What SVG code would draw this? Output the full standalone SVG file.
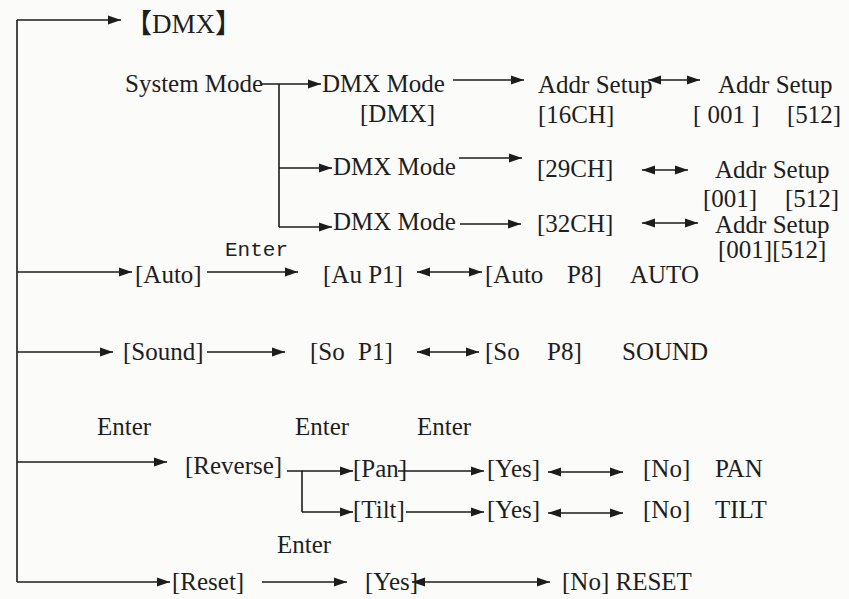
<svg xmlns="http://www.w3.org/2000/svg" width="849" height="599" viewBox="0 0 849 599">
<defs>
<marker id="ah" markerUnits="userSpaceOnUse" markerWidth="14" markerHeight="10" refX="13" refY="5" orient="auto-start-reverse">
<path d="M0,0.5 L13,5 L0,9.5 z" fill="#1c1c1c"/>
</marker>
<style>
text{font-family:"Liberation Serif","Noto Sans CJK SC",serif;font-size:25px;fill:#1e1e1e}
.m{font-family:"Liberation Mono","DejaVu Sans Mono",monospace;font-size:21px}
.c path{fill:none;stroke:#1c1c1c;stroke-width:1.6}
.a{marker-end:url(#ah)}
.d{marker-start:url(#ah);marker-end:url(#ah)}
</style>
</defs>
<rect width="849" height="599" fill="#fbfbf9"/>
<g class="c" id="connectors">
<path d="M17,20 V582"/>
<path class="a" d="M17,20 H121"/>
<path class="a" d="M262,84 H321"/>
<path d="M279,84 V227"/>
<path class="a" d="M279,168 H332"/>
<path class="a" d="M279,227 H332"/>
<path class="a" d="M453,80 H524"/>
<path class="a" d="M459,158 H522"/>
<path class="a" d="M460,224 H521"/>
<path class="d" d="M648,80 H700"/>
<path class="d" d="M642,170 H688"/>
<path class="d" d="M642,223 H698"/>
<path class="a" d="M17,272 H132"/>
<path class="a" d="M207,272 H298"/>
<path class="d" d="M417,272 H482"/>
<path class="a" d="M17,352 H113"/>
<path class="a" d="M207,352 H285"/>
<path class="d" d="M417,352 H479"/>
<path class="a" d="M17,462 H167"/>
<path d="M287,471 H302 V512"/>
<path class="a" d="M302,471 H353"/>
<path class="a" d="M302,512 H353"/>
<path class="a" d="M398,471 H484"/>
<path class="a" d="M406,512 H484"/>
<path class="d" d="M548,472 H623"/>
<path class="d" d="M548,513 H623"/>
<path class="a" d="M17,582 H170"/>
<path class="a" d="M262,582 H347"/>
<path class="d" d="M412,582 H550"/>
</g>
<g id="dmx"><text x="125" y="33" style="font-size:27px">【DMX】</text></g>
<g id="system-mode"><text x="125" y="92">System Mode</text></g>
<g id="dmx-mode-1"><text x="322" y="92">DMX Mode</text><text x="360" y="122">[DMX]</text></g>
<g id="dmx-mode-2"><text x="333" y="175">DMX Mode</text></g>
<g id="dmx-mode-3"><text x="333" y="230">DMX Mode</text></g>
<g id="addr-16ch"><text x="538" y="93">Addr Setup</text><text x="538" y="123">[16CH]</text></g>
<g id="ch29"><text x="537" y="177">[29CH]</text></g>
<g id="ch32"><text x="537" y="232">[32CH]</text></g>
<g id="addr-1"><text x="718" y="93">Addr Setup</text><text y="123"><tspan x="693">[ 001 ]</tspan><tspan x="787">[512]</tspan></text></g>
<g id="addr-2"><text x="715" y="178">Addr Setup</text><text y="207"><tspan x="703">[001]</tspan><tspan x="785">[512]</tspan></text></g>
<g id="addr-3"><text x="715" y="233">Addr Setup</text><text x="718" y="258">[001][512]</text></g>
<g id="auto"><text x="135" y="283">[Auto]</text></g>
<g id="enter-auto"><text class="m" x="225" y="256">Enter</text></g>
<g id="au-p1"><text x="323" y="283">[Au P1]</text></g>
<g id="auto-p8"><text y="283"><tspan x="485">[Auto</tspan><tspan x="567">P8]</tspan></text><text x="630" y="283">AUTO</text></g>
<g id="sound"><text x="123" y="360">[Sound]</text></g>
<g id="so-p1"><text y="360"><tspan x="310">[So</tspan><tspan x="358">P1]</tspan></text></g>
<g id="so-p8"><text y="360"><tspan x="485">[So</tspan><tspan x="547">P8]</tspan></text><text x="622" y="360">SOUND</text></g>
<g id="enter-labels"><text x="97" y="435">Enter</text><text x="295" y="435">Enter</text><text x="417" y="435">Enter</text><text x="277" y="553">Enter</text></g>
<g id="reverse"><text x="185" y="474">[Reverse]</text></g>
<g id="pan"><text x="353" y="477">[Pan]</text></g>
<g id="tilt"><text x="353" y="518">[Tilt]</text></g>
<g id="pan-yes"><text x="487" y="477">[Yes]</text></g>
<g id="tilt-yes"><text x="487" y="518">[Yes]</text></g>
<g id="pan-no"><text x="643" y="477">[No]</text><text x="715" y="477">PAN</text></g>
<g id="tilt-no"><text x="643" y="518">[No]</text><text x="715" y="518">TILT</text></g>
<g id="reset"><text x="172" y="590">[Reset]</text></g>
<g id="reset-yes"><text x="365" y="590">[Yes]</text></g>
<g id="reset-no"><text x="562" y="590">[No] RESET</text></g>
</svg>
